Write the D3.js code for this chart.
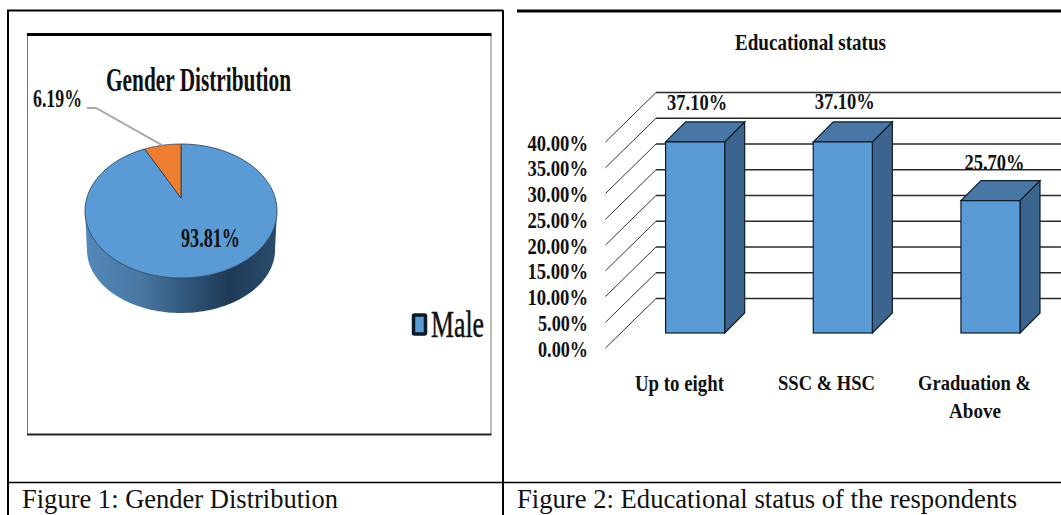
<!DOCTYPE html>
<html>
<head>
<meta charset="utf-8">
<style>
html,body{margin:0;padding:0;background:#fff;overflow:hidden}
svg{display:block}
text{font-family:"Liberation Serif","Times New Roman",serif;fill:#111}
</style>
<script src="https://cdn.jsdelivr.net/npm/d3@7/dist/d3.min.js"></script>
</head>
<body>
<script>
// Figure 1 data
const genderNames = ["Male", "Female"];
const genderValues = [93.81, 6.19];
const genderColors = ["#5b9bd5", "#ed7d31"];

// Figure 2 data
const eduCategories = ["Up to eight", "SSC & HSC", "Graduation & Above"];
const eduValues = [37.1, 37.1, 25.7];
const eduTicks = [0, 5, 10, 15, 20, 25, 30, 35, 40];

const svg = d3.select("body").append("svg").attr("width", 1061).attr("height", 515);
const pct = v => v.toFixed(2) + "%";

// Serif text squeezed to a fixed width, as the condensed chart lettering is
function label(parent, str, x, y, size, width, opts = {}) {
  return parent.append("text")
    .attr("x", x).attr("y", y)
    .attr("font-size", size)
    .attr("font-weight", opts.weight || "bold")
    .attr("textLength", width)
    .attr("lengthAdjust", "spacingAndGlyphs")
    .text(str);
}
function rule(x1, y1, x2, y2, color, w) {
  svg.append("line").attr("x1", x1).attr("y1", y1).attr("x2", x2).attr("y2", y2)
    .attr("stroke", color).attr("stroke-width", w);
}

// Table rules around the two figures
rule(7, 10.5, 503, 10.5, "#000", 2);
rule(517, 11, 1061, 11, "#000", 3);
rule(8, 10, 8, 515, "#000", 2);
rule(503, 10, 503, 515, "#000", 2);
rule(8, 482.5, 1061, 482.5, "#000", 1.5);

label(svg, "Figure 1: Gender Distribution", 22, 508, 26.5, 316, {weight: "normal"});
label(svg, "Figure 2: Educational status of the respondents", 517, 508, 26.5, 500, {weight: "normal"});

// ---- Figure 1: 3-D pie ----
rule(27.5, 34, 27.5, 434, "#777", 1);
rule(491, 34, 491, 434, "#777", 1);
rule(27, 34.5, 491.5, 34.5, "#000", 3);
rule(27, 434.5, 491.5, 434.5, "#222", 2);

const pie = {cx: 181, cy: 211, rx: 96, ry: 67, apexY: 198, botCy: 250, botRx: 94, botRy: 63};
const defs = svg.append("defs");
const grad = defs.append("linearGradient").attr("id", "pieSide")
  .attr("gradientUnits", "userSpaceOnUse")
  .attr("x1", pie.cx - pie.rx).attr("x2", pie.cx + pie.rx).attr("y1", 0).attr("y2", 0);
[[0, "#5289bc"], [0.3, "#48769f"], [0.5, "#335a80"], [0.75, "#1f3a56"], [1, "#2a4c6e"]]
  .forEach(([o, c]) => grad.append("stop").attr("offset", o).attr("stop-color", c));

const rim = (a, cy = pie.cy, rx = pie.rx, ry = pie.ry) =>
  [pie.cx + rx * Math.sin(a), cy - ry * Math.cos(a)];
const lineGen = d3.line();
const sweep = (a0, a1, n = 90) => d3.range(n + 1).map(i => a0 + (a1 - a0) * i / n);

// Visible wall of the cylinder: lower half of the top face, then the base back again
const lowerArc = sweep(Math.PI / 2, 3 * Math.PI / 2);
const wall = lowerArc.map(a => rim(a))
  .concat(lowerArc.slice().reverse().map(a => rim(a, pie.botCy, pie.botRx, pie.botRy)));
svg.append("path").attr("d", lineGen(wall) + "Z").attr("fill", "url(#pieSide)");

const slices = d3.pie().sort(null)(genderValues);
svg.append("g").selectAll("path").data(slices).join("path")
  .attr("d", d => {
    const pts = sweep(d.startAngle, d.endAngle, 180).map(a => rim(a));
    return lineGen([[pie.cx, pie.apexY], ...pts]) + "Z";
  })
  .attr("fill", (d, i) => genderColors[i])
  .attr("stroke", "#1f3850").attr("stroke-width", 0.8);

// Leader line from the small slice to its label
const femaleMid = (slices[1].startAngle + slices[1].endAngle) / 2;
svg.append("path")
  .attr("d", lineGen([[87, 108], [96, 108], rim(femaleMid)]))
  .attr("fill", "none").attr("stroke", "#a9a9a9").attr("stroke-width", 2);

label(svg, "Gender Distribution", 106, 91, 33, 185);
label(svg, pct(genderValues[1]), 33, 107, 26, 49);
label(svg, pct(genderValues[0]), 181, 247, 28, 59);

svg.append("rect").attr("x", 413.5).attr("y", 315).attr("width", 12).attr("height", 19).attr("rx", 1)
  .attr("fill", genderColors[0]).attr("stroke", "#0d1b29").attr("stroke-width", 3.5);
label(svg, genderNames[0], 431, 337, 37, 53, {weight: "normal"}).attr("stroke", "#111").attr("stroke-width", 0.5);

// ---- Figure 2: 3-D column chart ----
const frontY = d3.scaleLinear().domain([0, 40]).range([348, 142]);
const wallDx = 50.5, wallDy = 49.5;   // depth of the floor and side wall
const barLift = 15;                   // columns stand part-way back on the floor
const barDx = 20, barDy = 20;         // depth of each column
const x = d3.scaleBand().domain(eduCategories).range([665.6, 1020]).paddingInner(0.6).paddingOuter(0);
const gridX0 = 605.5;

const grid = svg.append("g");
grid.selectAll("path.diag").data(eduTicks).join("path").attr("class", "diag")
  .attr("d", t => lineGen([[gridX0, frontY(t)], [gridX0 + wallDx, frontY(t) - wallDy]]))
  .attr("fill", "none").attr("stroke", "#333").attr("stroke-width", 1);
grid.selectAll("path.back").data(eduTicks).join("path").attr("class", "back")
  .attr("d", t => lineGen([[gridX0 + wallDx, frontY(t) - wallDy], [1061, frontY(t) - wallDy]]))
  .attr("fill", "none").attr("stroke", "#2a2a2a").attr("stroke-width", 1.6);

const axis = d3.axisLeft(frontY).tickValues(eduTicks).tickSize(0).tickPadding(0).tickFormat(pct);
const axisG = svg.append("g").attr("transform", "translate(588,0)").call(axis);
axisG.select(".domain").remove();
axisG.selectAll("text")
  .attr("dy", null).attr("y", 8)
  .attr("font-size", 24).attr("font-weight", "bold")
  .attr("textLength", t => t < 10 ? 50 : 60.5)
  .attr("lengthAdjust", "spacingAndGlyphs");
axisG.attr("font-family", null).attr("font-size", null);

const barFloor = frontY(0) - barLift;
const barY = v => barFloor - (frontY(0) - frontY(v));

const bars = svg.append("g").selectAll("g").data(eduCategories).join("g");
const edge = {stroke: "#0e1c29", width: 1.2};
bars.append("path")
  .attr("d", (c, i) => {
    const x1 = x(c) + x.bandwidth(), y1 = barY(eduValues[i]);
    return lineGen([[x1, y1], [x1 + barDx, y1 - barDy], [x1 + barDx, barFloor - barDy], [x1, barFloor]]) + "Z";
  })
  .attr("fill", "#3b648e").attr("stroke", edge.stroke).attr("stroke-width", edge.width);
bars.append("path")
  .attr("d", (c, i) => {
    const x0 = x(c), x1 = x0 + x.bandwidth(), y1 = barY(eduValues[i]);
    return lineGen([[x0, y1], [x0 + barDx, y1 - barDy], [x1 + barDx, y1 - barDy], [x1, y1]]) + "Z";
  })
  .attr("fill", "#4877a5").attr("stroke", edge.stroke).attr("stroke-width", edge.width);
bars.append("rect")
  .attr("x", c => x(c)).attr("width", x.bandwidth())
  .attr("y", (c, i) => barY(eduValues[i]))
  .attr("height", (c, i) => barFloor - barY(eduValues[i]))
  .attr("fill", "#5b9bd5").attr("stroke", edge.stroke).attr("stroke-width", edge.width);

// Value labels sit just above each column's top face
const valueLift = [11.5, 13, 11];
eduValues.forEach((v, i) => {
  const c = eduCategories[i];
  label(svg, pct(v), x(c) + 1.5 + (i === 2 ? 2 : 0), barY(v) - barDy - valueLift[i], 24, 60);
});

label(svg, "Educational status", 735, 50, 23, 151);
label(svg, "Up to eight", 635, 391, 23, 89);
label(svg, "SSC & HSC", 778, 390, 22, 97);
label(svg, "Graduation &", 918, 390, 20, 113);
label(svg, "Above", 949, 418, 22, 52);
</script>
</body>
</html>
